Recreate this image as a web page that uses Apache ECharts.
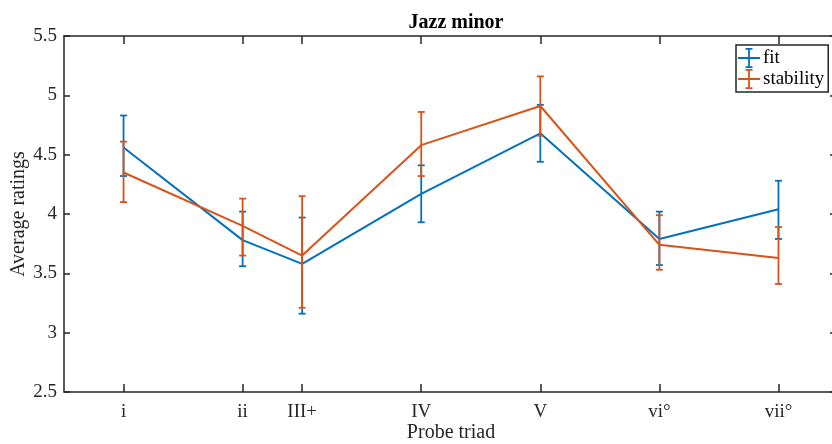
<!DOCTYPE html>
<html>
<head>
<meta charset="utf-8">
<title>Jazz minor</title>
<script src="https://cdn.jsdelivr.net/npm/echarts@6/dist/echarts.min.js"></script>
<style>
  html, body { margin: 0; padding: 0; background: #fff; }
  #chart { width: 832px; height: 444px; }
</style>
</head>
<body>
<div id="chart"></div>
<script>
// Probe triads and their root position in semitones above the tonic
const categories = ['i', 'ii', 'III+', 'IV', 'V', 'vi°', 'vii°'];
const semitones = [0, 2, 3, 5, 7, 9, 11];

// Mean ratings with error-bar bounds
const fitMean = [4.56, 3.78, 3.58, 4.17, 4.68, 3.79, 4.04];
const fitLow  = [4.32, 3.56, 3.16, 3.93, 4.44, 3.57, 3.79];
const fitHigh = [4.83, 4.02, 3.97, 4.41, 4.92, 4.02, 4.28];

const stabMean = [4.35, 3.90, 3.65, 4.58, 4.91, 3.74, 3.63];
const stabLow  = [4.10, 3.65, 3.21, 4.32, 4.66, 3.53, 3.41];
const stabHigh = [4.61, 4.13, 4.15, 4.86, 5.16, 3.99, 3.89];

const yTicks = [2.5, 3, 3.5, 4, 4.5, 5, 5.5];

const BLUE = '#0072BD';
const ORANGE = '#D95319';
const AXIS = '#262626';
const FONT = 'Liberation Serif';

// Error-bar glyph used for legend icons (vertical bar with caps, crossed by the line)
const errIcon = 'path://M0,9.1h22v1.8h-22z M10.1,0h1.8v20h-1.8z M7.5,0h7v1.8h-7z M7.5,18.2h7v1.8h-7z';

function linePoints(mean) {
  return semitones.map((s, i) => [s, mean[i]]);
}
function barPoints(low, high) {
  return semitones.map((s, i) => [s, low[i], high[i]]);
}
function errorBars(color) {
  return function (params, api) {
    const x = api.value(0);
    const lo = api.coord([x, api.value(1)]);
    const hi = api.coord([x, api.value(2)]);
    const cap = 3.5;
    const style = { stroke: color, lineWidth: 1.8, fill: null };
    return {
      type: 'group',
      children: [
        { type: 'line', shape: { x1: lo[0], y1: lo[1], x2: hi[0], y2: hi[1] }, style },
        { type: 'line', shape: { x1: lo[0] - cap, y1: lo[1], x2: lo[0] + cap, y2: lo[1] }, style },
        { type: 'line', shape: { x1: hi[0] - cap, y1: hi[1], x2: hi[0] + cap, y2: hi[1] }, style }
      ]
    };
  };
}

const axisLine = { show: true, onZero: false, lineStyle: { color: AXIS, width: 1.5 } };
const labelText = { color: AXIS, fontFamily: FONT, fontSize: 19 };

const chart = echarts.init(document.getElementById('chart'), null, { renderer: 'canvas' });
chart.setOption({
  animation: false,
  backgroundColor: '#fff',
  title: {
    text: 'Jazz minor',
    left: 451,
    textAlign: 'center',
    top: 8,
    textStyle: { fontFamily: FONT, fontSize: 20, fontWeight: 'bold', color: '#000' }
  },
  legend: {
    left: 736,
    top: 45,
    orient: 'vertical',
    padding: [3, 4, 3, 2],
    itemGap: 1,
    itemWidth: 22,
    itemHeight: 20,
    borderColor: AXIS,
    borderWidth: 1.5,
    backgroundColor: '#fff',
    textStyle: { fontFamily: FONT, fontSize: 19, color: '#000', padding: [0, 0, 0, -2] },
    data: [
      { name: 'fit', icon: errIcon, itemStyle: { color: BLUE } },
      { name: 'stability', icon: errIcon, itemStyle: { color: ORANGE } }
    ]
  },
  grid: { left: 64, right: -6, top: 36, bottom: 52, containLabel: false, outerBoundsMode: 'none' },
  xAxis: [
    {
      type: 'value',
      position: 'bottom',
      min: -1,
      max: 12,
      name: 'Probe triad',
      nameLocation: 'middle',
      nameGap: 31,
      nameMoveOverlap: false,
      nameTextStyle: { fontFamily: FONT, fontSize: 20, color: AXIS },
      axisLine,
      axisTick: { show: true, inside: true, length: 8, customValues: semitones, lineStyle: { color: AXIS, width: 1.5 } },
      axisLabel: {
        ...labelText,
        margin: 11,
        customValues: semitones,
        formatter: (v) => categories[semitones.indexOf(v)] || ''
      },
      splitLine: { show: false }
    },
    {
      type: 'value',
      position: 'top',
      min: -1,
      max: 12,
      axisLine,
      axisTick: { show: true, inside: true, length: 8, customValues: semitones, lineStyle: { color: AXIS, width: 1.5 } },
      axisLabel: { show: false },
      splitLine: { show: false }
    }
  ],
  yAxis: [
    {
      type: 'value',
      position: 'left',
      min: 2.5,
      max: 5.5,
      interval: 0.5,
      name: 'Average ratings',
      nameLocation: 'middle',
      nameGap: 35,
      nameMoveOverlap: false,
      nameTextStyle: { fontFamily: FONT, fontSize: 20, color: AXIS },
      axisLine,
      axisTick: { show: true, inside: true, length: 6, customValues: yTicks, lineStyle: { color: AXIS, width: 1.5 } },
      axisLabel: { ...labelText, margin: 7, customValues: yTicks, formatter: (v) => String(v) },
      splitLine: { show: false }
    },
    {
      type: 'value',
      position: 'right',
      min: 2.5,
      max: 5.5,
      interval: 0.5,
      axisLine,
      axisTick: { show: true, inside: true, length: 8, customValues: yTicks, lineStyle: { color: AXIS, width: 1.5 } },
      axisLabel: { show: false },
      splitLine: { show: false }
    }
  ],
  series: [
    {
      name: 'fit',
      type: 'line',
      data: linePoints(fitMean),
      showSymbol: false,
      symbol: 'none',
      color: BLUE,
      lineStyle: { color: BLUE, width: 2 },
      z: 3
    },
    {
      name: 'fit',
      type: 'custom',
      data: barPoints(fitLow, fitHigh),
      renderItem: errorBars(BLUE),
      encode: { x: 0, y: [1, 2] },
      color: BLUE,
      z: 3
    },
    {
      name: 'stability',
      type: 'line',
      data: linePoints(stabMean),
      showSymbol: false,
      symbol: 'none',
      color: ORANGE,
      lineStyle: { color: ORANGE, width: 2 },
      z: 4
    },
    {
      name: 'stability',
      type: 'custom',
      data: barPoints(stabLow, stabHigh),
      renderItem: errorBars(ORANGE),
      encode: { x: 0, y: [1, 2] },
      color: ORANGE,
      z: 4
    }
  ]
});
</script>
</body>
</html>
